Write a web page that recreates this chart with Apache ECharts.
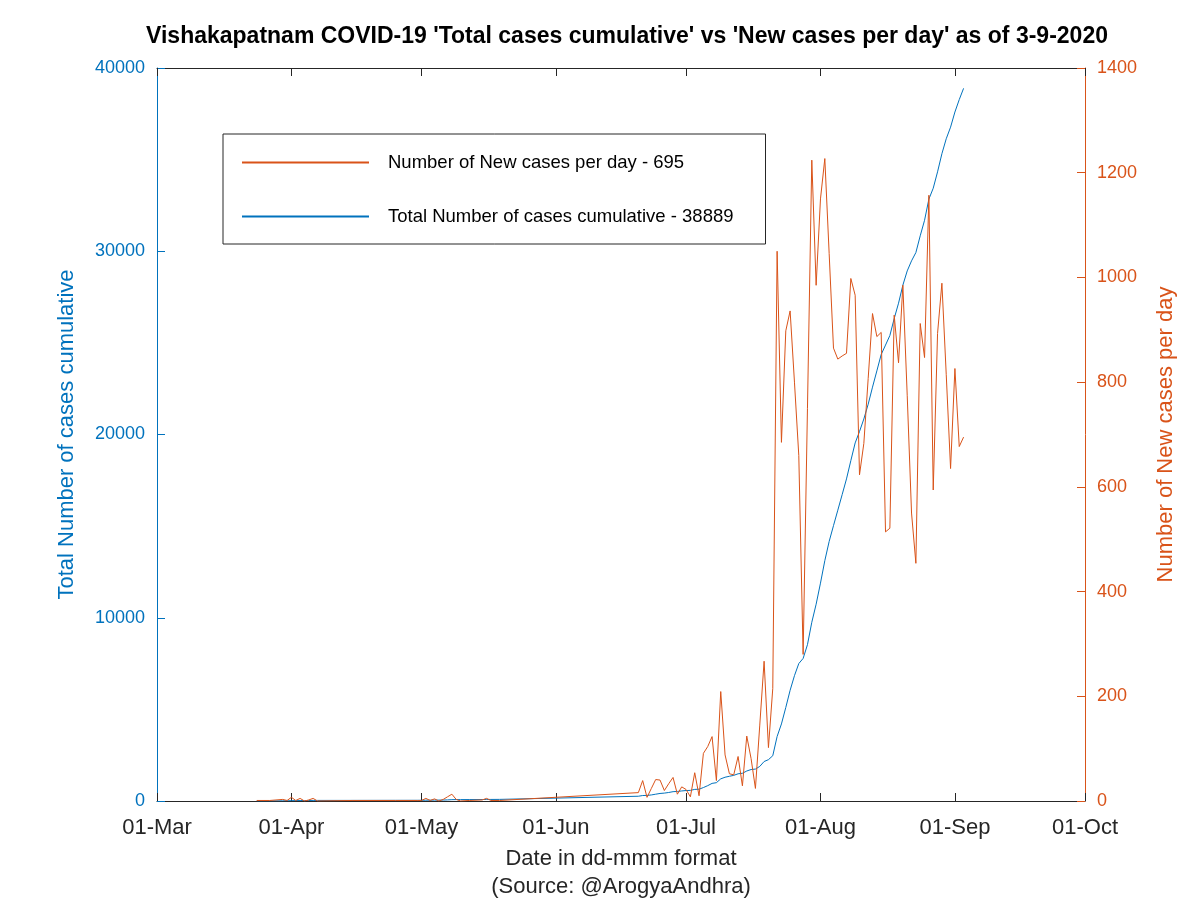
<!DOCTYPE html>
<html>
<head>
<meta charset="utf-8">
<script src="https://cdn.jsdelivr.net/npm/echarts@6/dist/echarts.min.js"></script>
<style>html,body{margin:0;padding:0;background:#fff;}#chart{width:1200px;height:900px;}</style>
</head>
<body>
<div id="chart"></div>
<script>
// ---- data ----
const dates = [
  '2020-03-24','2020-03-27','2020-03-30','2020-03-31','2020-04-01','2020-04-02','2020-04-03','2020-04-04',
  '2020-04-05','2020-04-06','2020-04-07','2020-04-15','2020-04-25','2020-04-30',
  '2020-05-01','2020-05-02','2020-05-03','2020-05-04','2020-05-05','2020-05-06','2020-05-07','2020-05-08',
  '2020-05-09','2020-05-10','2020-05-12','2020-05-15','2020-05-16','2020-05-17','2020-05-19',
  '2020-06-20','2020-06-21','2020-06-22','2020-06-23','2020-06-24','2020-06-25','2020-06-26','2020-06-27',
  '2020-06-28','2020-06-29','2020-06-30',
  '2020-07-01','2020-07-02','2020-07-03','2020-07-04','2020-07-05','2020-07-06','2020-07-07','2020-07-08',
  '2020-07-09','2020-07-10','2020-07-11','2020-07-12','2020-07-13','2020-07-14','2020-07-15','2020-07-16',
  '2020-07-17','2020-07-18','2020-07-19','2020-07-20','2020-07-21','2020-07-22','2020-07-23','2020-07-24',
  '2020-07-25','2020-07-26','2020-07-27','2020-07-28','2020-07-29','2020-07-30','2020-07-31',
  '2020-08-01','2020-08-02','2020-08-03','2020-08-04','2020-08-05','2020-08-06','2020-08-07','2020-08-08',
  '2020-08-09','2020-08-10','2020-08-11','2020-08-12','2020-08-13','2020-08-14','2020-08-15','2020-08-16',
  '2020-08-17','2020-08-18','2020-08-19','2020-08-20','2020-08-21','2020-08-22','2020-08-23','2020-08-24',
  '2020-08-25','2020-08-26','2020-08-27','2020-08-28','2020-08-29','2020-08-30','2020-08-31',
  '2020-09-01','2020-09-02','2020-09-03'
];
const newCases = [
  1,1,3,1,7,1,5,0,
  2,5,0,1,1,1,
  1,5,1,4,0,3,8,13,
  3,0,1,2,5,1,1,
  16,39,7,24,41,40,20,33,
  45,13,27,
  22,8,54,10,91,104,123,39,
  209,88,52,50,85,29,124,81,
  24,145,267,102,215,1050,685,898,
  936,800,660,280,750,1224,985,
  1150,1227,1046,865,844,850,855,998,
  966,623,683,807,931,887,895,514,
  521,928,837,985,775,550,454,912,
  847,1157,594,893,989,815,635,
  826,677,695
];
const totalCases = [
  1,3,11,12,19,20,25,25,
  27,32,32,33,36,38,
  39,44,45,49,49,52,60,73,
  76,76,77,80,85,86,88,
  260,299,306,330,371,411,431,464,
  509,522,549,
  571,579,633,643,734,838,961,1000,
  1209,1297,1349,1399,1484,1513,1637,1718,
  1742,1887,2154,2256,2471,3521,4206,5104,
  6040,6840,7500,7780,8530,9754,10739,
  11889,13116,14162,15027,15871,16721,17576,18574,
  19540,20163,20846,21653,22584,23471,24366,24880,
  25401,26329,27166,28151,28926,29476,29930,30842,
  31689,32846,33440,34333,35322,36137,36772,
  37598,38275,38889
];
const xMin = '2020-03-01';
const xMax = '2020-10-01';
const monthNames = ['Jan','Feb','Mar','Apr','May','Jun','Jul','Aug','Sep','Oct','Nov','Dec'];
const leftTicks = {min: 0, max: 40000, interval: 10000};
const rightTicks = {min: 0, max: 1400, interval: 200};
const newName = 'Number of New cases per day - ' + newCases[newCases.length - 1];
const totalName = 'Total Number of cases cumulative - ' + totalCases[totalCases.length - 1];

const BLUE = '#0072BD', ORANGE = '#D95319', DARK = '#262626';
const FONT = '"Liberation Sans", Arial, Helvetica, sans-serif';

function fmtDate(v) {
  const d = new Date(v);
  const dd = String(d.getDate()).padStart(2, '0');
  return dd + '-' + monthNames[d.getMonth()];
}
const plain = v => String(v);

const chart = echarts.init(document.getElementById('chart'), null, {renderer: 'canvas'});
chart.setOption({
  animation: false,
  backgroundColor: '#fff',
  textStyle: {fontFamily: FONT},
  title: {
    text: "Vishakapatnam COVID-19 'Total cases cumulative' vs 'New cases per day' as of 3-9-2020",
    left: 622, top: 20, textAlign: 'center',
    textStyle: {fontSize: 23, fontWeight: 'bold', color: '#000', fontFamily: FONT}
  },
  grid: {left: 157, right: 115, top: 68, bottom: 99, containLabel: false, outerBoundsMode: 'none'},
  legend: {
    orient: 'vertical', left: 223, top: 134,
    data: [newName, totalName],
    itemWidth: 127, itemHeight: 14, itemGap: 35,
    padding: [19, 32, 18, 18],
    borderColor: DARK, borderWidth: 1, backgroundColor: '#fff',
    itemStyle: {opacity: 0},
    textStyle: {fontSize: 18.5, color: '#000', fontFamily: FONT, padding: [0, 0, 0, 14]}
  },
  xAxis: [{
    type: 'time', min: xMin, max: xMax, splitNumber: 7,
    name: 'Date in dd-mmm format\n(Source: @ArogyaAndhra)',
    nameLocation: 'middle', nameGap: 44,
    nameTextStyle: {fontSize: 22, color: DARK, lineHeight: 28, fontFamily: FONT},
    axisLine: {show: true, onZero: false, lineStyle: {color: DARK, width: 1}},
    axisTick: {show: true, inside: true, length: 8, lineStyle: {color: DARK}},
    splitLine: {show: false},
    axisLabel: {formatter: fmtDate, fontSize: 22, color: DARK, margin: 16, fontFamily: FONT,
                showMinLabel: true, showMaxLabel: true}
  }, {
    type: 'time', min: xMin, max: xMax, splitNumber: 7, position: 'top',
    axisLine: {show: true, onZero: false, lineStyle: {color: DARK, width: 1}},
    axisTick: {show: true, inside: true, length: 8, lineStyle: {color: DARK}},
    axisLabel: {show: false}, splitLine: {show: false}
  }],
  yAxis: [{
    type: 'value', position: 'left', min: leftTicks.min, max: leftTicks.max, interval: leftTicks.interval,
    name: 'Total Number of cases cumulative', nameLocation: 'middle', nameGap: 79, nameRotate: 90,
    nameTextStyle: {fontSize: 22, color: BLUE, fontFamily: FONT},
    axisLine: {show: true, onZero: false, lineStyle: {color: BLUE, width: 1}},
    axisTick: {show: true, inside: true, length: 8, lineStyle: {color: BLUE}},
    axisLabel: {formatter: plain, fontSize: 18, color: BLUE, margin: 12, fontFamily: FONT},
    splitLine: {show: false}
  }, {
    type: 'value', position: 'right', min: rightTicks.min, max: rightTicks.max, interval: rightTicks.interval,
    name: 'Number of New cases per day', nameLocation: 'middle', nameGap: 70, nameRotate: 90,
    nameTextStyle: {fontSize: 22, color: ORANGE, fontFamily: FONT},
    axisLine: {show: true, onZero: false, lineStyle: {color: ORANGE, width: 1}},
    axisTick: {show: true, inside: true, length: 8, lineStyle: {color: ORANGE}},
    axisLabel: {formatter: plain, fontSize: 18, color: ORANGE, margin: 12, fontFamily: FONT},
    splitLine: {show: false}
  }],
  series: [{
    name: newName, type: 'line', xAxisIndex: 0, yAxisIndex: 1,
    data: dates.map((d, i) => [d, newCases[i]]),
    symbol: 'none', showSymbol: false,
    lineStyle: {color: ORANGE, width: 1}, itemStyle: {color: ORANGE}, z: 3
  }, {
    name: totalName, type: 'line', xAxisIndex: 0, yAxisIndex: 0,
    data: dates.map((d, i) => [d, totalCases[i]]),
    symbol: 'none', showSymbol: false,
    lineStyle: {color: BLUE, width: 1}, itemStyle: {color: BLUE}, z: 2
  }]
});
</script>
</body>
</html>
